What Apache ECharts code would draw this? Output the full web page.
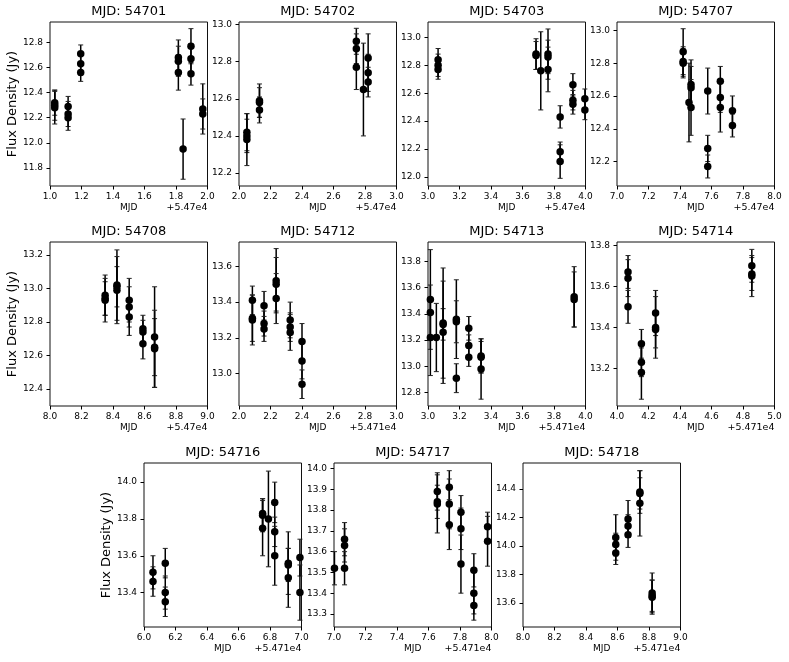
<!DOCTYPE html>
<html><head><meta charset="utf-8">
<script src="https://cdn.jsdelivr.net/npm/echarts/dist/echarts.min.js"></script>
<style>html,body{margin:0;padding:0;background:#fff}#c{width:789px;height:662px}</style>
</head><body><div id="c"></div>
<script>
// each row: [time (MJD minus axis offset), flux density (Jy), error (Jy)]
const d54701 = [
 [1.03,12.32,0.10],[1.03,12.30,0.12],[1.03,12.28,0.13],
 [1.115,12.29,0.08],[1.115,12.23,0.10],[1.115,12.20,0.10],
 [1.195,12.71,0.07],[1.195,12.63,0.09],[1.195,12.56,0.07],
 [1.815,12.68,0.14],[1.815,12.65,0.12],[1.815,12.56,0.14],
 [1.845,11.95,0.24],
 [1.895,12.77,0.14],[1.895,12.67,0.12],[1.895,12.55,0.09],
 [1.97,12.27,0.20],[1.97,12.23,0.12]
];
const d54702 = [
 [2.05,12.42,0.10],[2.05,12.40,0.09],[2.05,12.38,0.14],
 [2.13,12.59,0.09],[2.13,12.58,0.08],[2.13,12.54,0.07],
 [2.745,12.91,0.07],[2.745,12.87,0.08],[2.745,12.77,0.12],
 [2.79,12.65,0.25],
 [2.82,12.82,0.13],[2.82,12.74,0.10],[2.82,12.69,0.08]
];
const d54703 = [
 [3.064,12.84,0.08],[3.064,12.80,0.08],[3.064,12.77,0.07],
 [3.686,12.88,0.11],[3.686,12.87,0.10],
 [3.716,12.76,0.28],
 [3.762,12.88,0.18],[3.762,12.86,0.12],[3.762,12.77,0.16],
 [3.839,12.43,0.08],[3.839,12.18,0.07],[3.839,12.11,0.12],
 [3.92,12.66,0.08],[3.92,12.55,0.07],[3.92,12.52,0.07],
 [3.996,12.56,0.07],[3.996,12.48,0.07]
];
const d54707 = [
 [7.42,12.87,0.14],[7.42,12.81,0.09],[7.42,12.80,0.09],
 [7.457,12.56,0.24],
 [7.47,12.67,0.15],[7.47,12.65,0.13],[7.47,12.53,0.17],
 [7.576,12.63,0.14],[7.576,12.28,0.08],[7.576,12.17,0.07],
 [7.656,12.69,0.09],[7.656,12.59,0.09],[7.656,12.53,0.15],
 [7.733,12.51,0.09],[7.733,12.42,0.07]
];
const d54708 = [
 [8.35,12.96,0.12],[8.35,12.94,0.10],[8.35,12.93,0.13],
 [8.425,13.02,0.21],[8.425,13.01,0.12],[8.425,12.99,0.20],
 [8.503,12.93,0.13],[8.503,12.89,0.12],[8.503,12.83,0.11],
 [8.59,12.76,0.08],[8.59,12.74,0.07],[8.59,12.67,0.09],
 [8.664,12.71,0.30],[8.664,12.65,0.17],[8.664,12.64,0.23]
];
const d54712 = [
 [2.085,13.41,0.08],[2.085,13.31,0.13],[2.085,13.30,0.14],
 [2.159,13.38,0.08],[2.159,13.28,0.07],[2.159,13.25,0.07],
 [2.236,13.52,0.18],[2.236,13.50,0.15],[2.236,13.42,0.14],
 [2.325,13.30,0.10],[2.325,13.26,0.08],[2.325,13.23,0.10],
 [2.40,13.18,0.10],[2.40,13.07,0.10],[2.40,12.94,0.08]
];
const d54713 = [
 [3.015,13.51,0.38],[3.015,13.41,0.21],[3.015,13.22,0.29],
 [3.053,13.22,0.26],
 [3.096,13.33,0.42],[3.096,13.32,0.12],[3.096,13.26,0.39],
 [3.18,13.36,0.30],[3.18,13.34,0.16],[3.18,12.91,0.11],
 [3.259,13.29,0.09],[3.259,13.16,0.08],[3.259,13.07,0.07],
 [3.337,13.08,0.13],[3.337,13.07,0.12],[3.337,12.98,0.23],
 [3.928,13.53,0.23],[3.928,13.51,0.21]
];
const d54714 = [
 [4.07,13.67,0.08],[4.07,13.64,0.09],[4.07,13.50,0.08],
 [4.155,13.32,0.07],[4.155,13.23,0.07],[4.155,13.18,0.13],
 [4.245,13.47,0.11],[4.245,13.40,0.15],[4.245,13.39,0.09],
 [4.856,13.70,0.08],[4.856,13.66,0.08],[4.856,13.65,0.10]
];
const d54716 = [
 [6.057,13.51,0.09],[6.057,13.46,0.08],
 [6.135,13.56,0.08],[6.135,13.40,0.09],[6.135,13.35,0.08],
 [6.753,13.83,0.08],[6.753,13.82,0.09],[6.753,13.75,0.15],
 [6.79,13.80,0.26],
 [6.83,13.89,0.11],[6.83,13.73,0.08],[6.83,13.60,0.16],
 [6.916,13.56,0.17],[6.916,13.55,0.09],[6.916,13.48,0.16],
 [6.99,13.59,0.10],[6.99,13.40,0.15]
];
const d54717 = [
 [7.003,13.52,0.08],
 [7.067,13.66,0.08],[7.067,13.63,0.08],[7.067,13.52,0.08],
 [7.656,13.89,0.09],[7.656,13.84,0.08],[7.656,13.83,0.14],
 [7.732,13.91,0.08],[7.732,13.83,0.12],[7.732,13.73,0.12],
 [7.806,13.79,0.08],[7.806,13.71,0.10],[7.806,13.54,0.14],
 [7.888,13.51,0.08],[7.888,13.40,0.10],[7.888,13.34,0.07],
 [7.975,13.72,0.07],[7.975,13.65,0.12]
];
const d54718 = [
 [8.589,14.06,0.16],[8.589,14.01,0.08],[8.589,13.95,0.08],
 [8.667,14.19,0.13],[8.667,14.14,0.08],[8.667,14.08,0.09],
 [8.742,14.38,0.15],[8.742,14.37,0.11],[8.742,14.30,0.23],
 [8.82,13.67,0.14],[8.82,13.65,0.11],[8.82,13.64,0.12]
];

const dayNames = ['54701','54702','54703','54707','54708','54712','54713','54714','54716','54717','54718'];
const dataSets = [d54701,d54702,d54703,d54707,d54708,d54712,d54713,d54714,d54716,d54717,d54718];
const offsetLabels = ['+5.47e4','+5.47e4','+5.47e4','+5.47e4','+5.47e4','+5.471e4','+5.471e4','+5.471e4','+5.471e4','+5.471e4','+5.471e4'];
const xLims = [[1,2],[2,3],[3,4],[7,8],[8,9],[2,3],[3,4],[4,5],[6,7],[7,8],[8,9]];
const yLims = [[11.656,12.963],[12.13,13.014],[11.935,13.11],[12.051,13.051],[12.299,13.277],
               [12.818,13.737],[12.698,13.948],[13.017,13.816],[13.213,14.104],[13.237,14.027],[13.43,14.584]];
const yTickSets = [
 [11.8,12.0,12.2,12.4,12.6,12.8],
 [12.2,12.4,12.6,12.8,13.0],
 [12.0,12.2,12.4,12.6,12.8,13.0],
 [12.2,12.4,12.6,12.8,13.0],
 [12.4,12.6,12.8,13.0,13.2],
 [13.0,13.2,13.4,13.6],
 [12.8,13.0,13.2,13.4,13.6,13.8],
 [13.2,13.4,13.6,13.8],
 [13.4,13.6,13.8,14.0],
 [13.3,13.4,13.5,13.6,13.7,13.8,13.9,14.0],
 [13.6,13.8,14.0,14.2,14.4]
];
const xTickSteps = [0,0.2,0.4,0.6,0.8,1.0];

// layout
const FONT = 'DejaVu Sans';
const W = 157.5, H = 164;
const lefts = [50,239,428,617, 50,239,428,617, 144,334,523];
const tops  = [22,22,22,22, 242,242,242,242, 463,463,463];
const yLabelPanels = [0,4,8];

const grids = [], xAxes = [], yAxes = [], series = [], titles = [];
dataSets.forEach(function(data, i){
  grids.push({left: lefts[i], top: tops[i], width: W, height: H, show: true,
    borderColor: '#111', borderWidth: 1, backgroundColor: '#fff', containLabel: false});
  const xt = xTickSteps.map(function(s){ return +(xLims[i][0] + s).toFixed(1); });
  xAxes.push({type: 'value', gridIndex: i, min: xLims[i][0], max: xLims[i][1],
    axisLine: {show: false}, splitLine: {show: false},
    axisTick: {show: true, inside: false, length: 3.5, lineStyle: {color: '#000', width: 1}, customValues: xt},
    axisLabel: {customValues: xt, formatter: function(v){ return v.toFixed(1); },
      fontSize: 9, color: '#000', fontFamily: FONT, margin: 6},
    name: 'MJD', nameLocation: 'middle', nameGap: 17,
    nameTextStyle: {fontSize: 9, color: '#000', fontFamily: FONT}});
  const yAx = {type: 'value', gridIndex: i, min: yLims[i][0], max: yLims[i][1],
    axisLine: {show: false}, splitLine: {show: false},
    axisTick: {show: true, inside: false, length: 3.5, lineStyle: {color: '#000', width: 1}, customValues: yTickSets[i]},
    axisLabel: {customValues: yTickSets[i], formatter: function(v){ return v.toFixed(1); },
      fontSize: 9, color: '#000', fontFamily: FONT, margin: 7}};
  if (yLabelPanels.indexOf(i) >= 0) {
    yAx.name = 'Flux Density (Jy)';
    yAx.nameLocation = 'middle';
    yAx.nameGap = 30;
    yAx.nameTextStyle = {fontSize: 13, color: '#000', fontFamily: FONT};
  }
  yAxes.push(yAx);
  titles.push({text: 'MJD: ' + dayNames[i], left: lefts[i] + W/2, top: tops[i] - 10,
    textAlign: 'center', textVerticalAlign: 'middle', padding: 0,
    textStyle: {fontSize: 13, fontWeight: 'normal', color: '#000', fontFamily: FONT}});
  titles.push({text: offsetLabels[i], left: lefts[i] + W, top: tops[i] + H + 22,
    textAlign: 'right', textVerticalAlign: 'middle', padding: 0,
    textStyle: {fontSize: 9.5, fontWeight: 'normal', color: '#000', fontFamily: FONT}});
  series.push({type: 'custom', xAxisIndex: i, yAxisIndex: i, data: data, z: 2,
    encode: {x: 0, y: 1}, silent: true,
    renderItem: function(params, api){
      const x = api.value(0), y = api.value(1), e = api.value(2);
      const a = api.coord([x, y + e]), b = api.coord([x, y - e]);
      const cw = 2.5;
      return {type: 'group', children: [
        {type: 'line', shape: {x1: a[0], y1: a[1], x2: b[0], y2: b[1]}, style: {stroke: '#000', lineWidth: 1.5}},
        {type: 'line', shape: {x1: a[0]-cw, y1: a[1], x2: a[0]+cw, y2: a[1]}, style: {stroke: '#222', lineWidth: 1}},
        {type: 'line', shape: {x1: b[0]-cw, y1: b[1], x2: b[0]+cw, y2: b[1]}, style: {stroke: '#222', lineWidth: 1}}
      ]};
    }});
  series.push({type: 'scatter', xAxisIndex: i, yAxisIndex: i, z: 3, silent: true,
    data: data.map(function(r){ return [r[0], r[1]]; }),
    symbol: 'circle', symbolSize: 7.5, itemStyle: {color: '#000', opacity: 1}});
});

const chart = echarts.init(document.getElementById('c'), null, {renderer: 'canvas'});
chart.setOption({
  animation: false,
  backgroundColor: '#fff',
  textStyle: {fontFamily: FONT},
  title: titles,
  grid: grids,
  xAxis: xAxes,
  yAxis: yAxes,
  series: series
});
</script></body></html>
